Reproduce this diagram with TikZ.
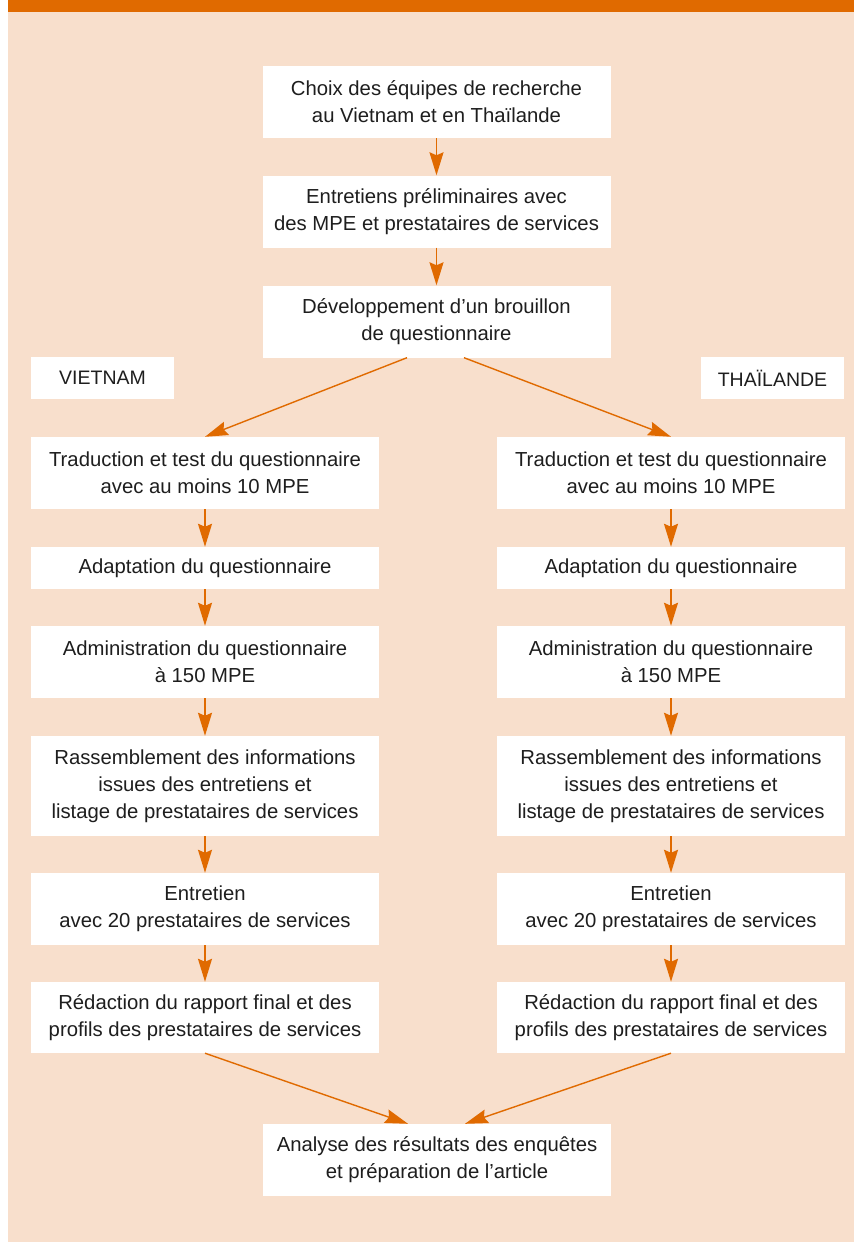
\documentclass[tikz,border=0pt]{standalone}
\usepackage{fontspec}
\setmainfont{Liberation Sans}
\usetikzlibrary{arrows.meta}
\definecolor{barorange}{HTML}{E06A00}
\definecolor{peach}{HTML}{F8DFCC}
\definecolor{ink}{HTML}{1E1E1E}
\tikzset{
  box/.style={fill=white, draw=none, inner sep=0pt, align=center, text=ink,
    font=\fontsize{20.3}{27}\selectfont, minimum width=348pt},
  tag/.style={fill=white, draw=none, inner sep=0pt, align=center, text=ink,
    font=\fontsize{19.5}{27}\selectfont, minimum width=143pt, minimum height=42pt},
  flow/.style={draw=barorange, line width=1.8pt,
    -{Stealth[length=23pt,width=14pt,inset=3pt]}},
  diag/.style={draw=barorange, line width=1.4pt,
    -{Stealth[length=23pt,width=14pt,inset=3pt]}}
}
\begin{document}
\begin{tikzpicture}[x=1pt,y=-1pt]
\useasboundingbox (0,0) rectangle (854,1242);
\fill[white] (0,0) rectangle (854,1242);
\fill[peach] (8,12) rectangle (854,1242);
\fill[barorange] (8,0) rectangle (854,12);

\node[box, minimum height=72pt] (c1) at (436.5,102) {Choix des équipes de recherche\\au Vietnam et en Thaïlande};
\node[box, minimum height=72pt] (c2) at (436.5,211.5) {Entretiens préliminaires avec\\des MPE et prestataires de services};
\node[box, minimum height=72pt] (c3) at (436.5,321.5) {Développement d’un brouillon\\de questionnaire};

\node[tag] (vn) at (102.5,378) {VIETNAM};
\node[tag] (th) at (772.5,378) {THAÏLANDE};

\foreach \side/\cx in {L/205, R/671} {
  \node[box, minimum height=72pt] (\side1) at (\cx,473) {Traduction et test du questionnaire\\avec au moins 10 MPE};
  \node[box, minimum height=42pt] (\side2) at (\cx,568) {Adaptation du questionnaire};
  \node[box, minimum height=72pt] (\side3) at (\cx,662) {Administration du questionnaire\\à 150 MPE};
  \node[box, minimum height=100pt] (\side4) at (\cx,786) {Rassemblement des informations\\issues des entretiens et\\listage de prestataires de services};
  \node[box, minimum height=72pt] (\side5) at (\cx,909) {Entretien\\avec 20 prestataires de services};
  \node[box, minimum height=71pt] (\side6) at (\cx,1017.5) {Rédaction du rapport final et des\\profils des prestataires de services};
  \draw[flow] (\side1.south) -- (\side2.north);
  \draw[flow] (\side2.south) -- (\side3.north);
  \draw[flow] (\side3.south) -- (\side4.north);
  \draw[flow] (\side4.south) -- (\side5.north);
  \draw[flow] (\side5.south) -- (\side6.north);
}

\node[box, minimum height=72pt] (fin) at (437,1160) {Analyse des résultats des enquêtes\\et préparation de l’article};

\draw[flow] (c1.south) -- (c2.north);
\draw[flow] (c2.south) -- (c3.north);
\draw[diag] ([xshift=-29.5pt]c3.south) -- (L1.north);
\draw[diag] ([xshift=27.5pt]c3.south) -- (R1.north);
\draw[diag] (L6.south) -- ([xshift=-29pt]fin.north);
\draw[diag] (R6.south) -- ([xshift=28pt]fin.north);
\end{tikzpicture}
\end{document}
